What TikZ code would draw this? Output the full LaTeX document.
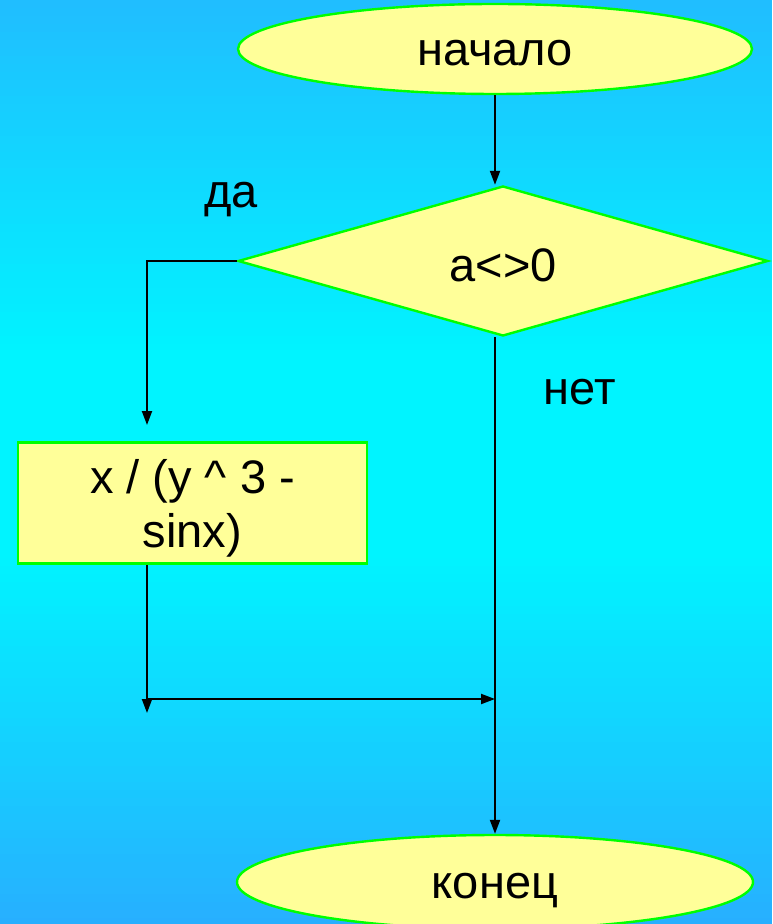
\documentclass[tikz,border=0pt]{standalone}
\usepackage{fontspec}
\setmainfont{Liberation Sans}
\usetikzlibrary{shapes.geometric,arrows.meta}
\definecolor{lightyellow}{HTML}{FFFF99}
\definecolor{bgtop}{HTML}{20BEFF}
\definecolor{bgmid}{HTML}{00F4FF}
\definecolor{bgbottom}{HTML}{28AEFF}

\begin{document}
\begin{tikzpicture}[x=0.5pt, y=-0.5pt,
  block/.style={draw=green, line width=1.2pt, fill=lightyellow, font=\fontsize{23.5}{27}\selectfont},
  terminal/.style={block, ellipse, inner sep=0pt, text height=21pt, text depth=4.2pt, minimum width=257pt, minimum height=45pt},
  decision/.style={block, diamond, inner sep=0pt, text height=21pt, text depth=0pt, minimum width=265pt, minimum height=75pt},
  process/.style={block, rectangle, minimum width=174.5pt, minimum height=60pt, align=center},
  answer/.style={font=\fontsize{23.5}{27}\selectfont},
  wire/.style={line width=1pt},
  arr/.style={wire, -{Triangle[length=7pt,width=5pt]}}]
  % Background
  \useasboundingbox (0,0) rectangle (772,924);
  \foreach \i in {0,...,43} {
    \pgfmathtruncatemacro{\p}{min(100,\i*8/3.5)}
    \colorlet{stripcol}{bgmid!\p!bgtop}
    \fill[stripcol] (0,\i*8) rectangle (772,\i*8+9);
  }
  \fill[bgmid] (0,350) rectangle (772,551);
  \foreach \i in {0,...,47} {
    \pgfmathtruncatemacro{\p}{min(100,\i*8/3.74)}
    \colorlet{stripcol}{bgbottom!\p!bgmid}
    \fill[stripcol] (0,550+\i*8) rectangle (772,559+\i*8);
  }

  % Nodes
  \node[terminal] (start) at (495,49) {начало};
  \node[decision] (cond) at (503,261) {a<>0};
  \node[process] (calc) at (192.5,503) {\rule{0pt}{22pt}x / (y \^{} 3 -\\sinx)};
  \node[terminal, minimum width=258pt, minimum height=47pt] (stop) at (495,882) {конец};
  \node[answer] (yes) at (231,200) {да};
  \node[answer] (no) at (580,392) {нет};
  \coordinate (yesend) at (147,425);
  \coordinate (join) at (147,699);
  \coordinate (joinend) at (147,713);

  % Edges
  \draw[arr] (start) -- (start.south |- cond.north);
  \draw[arr] (cond.west) -| (yesend);
  \draw[arr] (calc.south -| join) -- (joinend);
  \draw[arr] (join) -- (join -| start.south);
  \draw[arr] (start.south |- cond.south) -- (stop);
\end{tikzpicture}
\end{document}
